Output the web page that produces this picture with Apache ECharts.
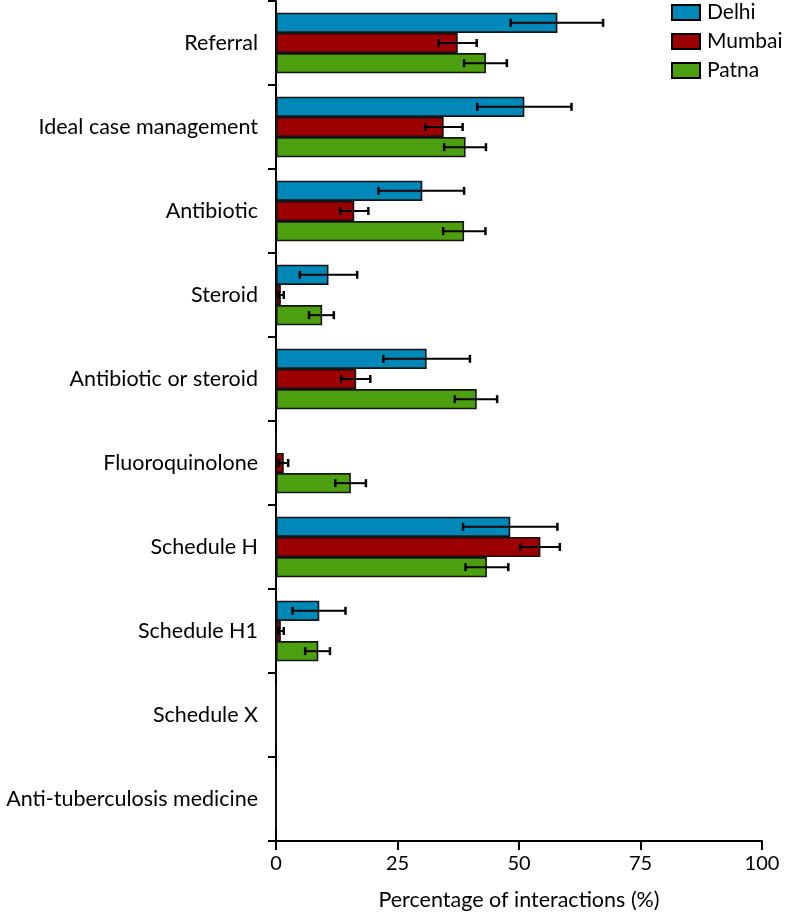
<!DOCTYPE html>
<html>
<head>
<meta charset="utf-8">
<script src="https://cdn.jsdelivr.net/npm/echarts@6/dist/echarts.min.js"></script>
<style>
html,body{margin:0;padding:0;background:#fff;}
#chart{width:788px;height:915px;}
</style>
</head>
<body>
<div id="chart"></div>
<script>
const categories = ['Referral','Ideal case management','Antibiotic','Steroid','Antibiotic or steroid','Fluoroquinolone','Schedule H','Schedule H1','Schedule X','Anti-tuberculosis medicine'];
const seriesNames = ['Delhi','Mumbai','Patna'];
const xTicks = [0, 25, 50, 75, 100];

const delhi     = [57.9, 51.1, 30.1, 10.8, 31.0, 0,    48.2, 8.9, 0, 0];
const delhiLow  = [48.3, 41.4, 21.1, 4.9,  22.1, null, 38.5, 3.4, null, null];
const delhiHigh = [67.3, 60.8, 38.7, 16.7, 39.9, null, 57.9, 14.3, null, null];

const mumbai     = [37.4, 34.5, 16.1, 1.0, 16.5, 1.6, 54.4, 1.0, 0, 0];
const mumbaiLow  = [33.5, 30.7, 13.2, 0.6, 13.4, 0.6, 50.3, 0.5, null, null];
const mumbaiHigh = [41.3, 38.4, 19.0, 1.6, 19.4, 2.5, 58.4, 1.6, null, null];

const patna     = [43.2, 39.0, 38.7, 9.5,  41.3, 15.4, 43.4, 8.7,  0, 0];
const patnaLow  = [38.7, 34.6, 34.4, 6.8,  36.8, 12.2, 39.0, 6.0,  null, null];
const patnaHigh = [47.5, 43.2, 43.1, 11.9, 45.5, 18.5, 47.8, 11.1, null, null];

const colors = ['#0088b8', '#9c0000', '#4ca010'];
const FONT = 'Lato';
const CAT_GAP = 0.28;

const values = [delhi, mumbai, patna];
const lows = [delhiLow, mumbaiLow, patnaLow];
const highs = [delhiHigh, mumbaiHigh, patnaHigh];

function errData(lo, hi) {
  const out = [];
  for (let i = 0; i < lo.length; i++) {
    if (lo[i] != null && hi[i] != null) out.push([i, lo[i], hi[i]]);
  }
  return out;
}

function makeRender(offset) {
  return function (params, api) {
    const idx = api.value(0);
    const p1 = api.coord([api.value(1), idx]);
    const p2 = api.coord([api.value(2), idx]);
    const band = api.size([0, 1])[1];
    const bw = band * (1 - CAT_GAP) / 3;
    const y = p1[1] + offset * bw;
    const cap = 4;
    const st = { stroke: '#000', lineWidth: 2 };
    const cst = { stroke: '#000', lineWidth: 2.5 };
    return {
      type: 'group',
      children: [
        { type: 'line', shape: { x1: p1[0], y1: y, x2: p2[0], y2: y }, style: st },
        { type: 'line', shape: { x1: p1[0], y1: y - cap, x2: p1[0], y2: y + cap }, style: cst },
        { type: 'line', shape: { x1: p2[0], y1: y - cap, x2: p2[0], y2: y + cap }, style: cst }
      ]
    };
  };
}

const series = [];
seriesNames.forEach((n, k) => {
  series.push({
    name: n,
    type: 'bar',
    data: values[k],
    barGap: '0%',
    barCategoryGap: (CAT_GAP * 100) + '%',
    itemStyle: { color: colors[k], borderColor: '#141414', borderWidth: 1.6 },
    emphasis: { disabled: true },
    z: 2
  });
});
seriesNames.forEach((n, k) => {
  series.push({
    name: n + ' CI',
    type: 'custom',
    data: errData(lows[k], highs[k]),
    encode: { x: [1, 2], y: 0 },
    renderItem: makeRender(k - 1),
    z: 5,
    silent: true
  });
});

const chart = echarts.init(document.getElementById('chart'), null, { renderer: 'canvas' });
chart.setOption({
  animation: false,
  textStyle: { fontFamily: FONT },
  legend: {
    data: seriesNames,
    orient: 'vertical',
    left: 666,
    top: -3,
    itemWidth: 28,
    itemHeight: 15,
    itemGap: 8,
    icon: 'rect',
    textStyle: { fontFamily: FONT, fontSize: 21, color: '#000', padding: [0, 0, 0, 2] },
    itemStyle: { borderColor: '#000', borderWidth: 2 }
  },
  grid: { left: 276, right: 26, top: 1, bottom: 74, containLabel: false, outerBoundsMode: 'none' },
  xAxis: {
    type: 'value',
    min: xTicks[0],
    max: xTicks[xTicks.length - 1],
    interval: xTicks[1] - xTicks[0],
    name: 'Percentage of interactions (%)',
    nameLocation: 'middle',
    nameGap: 48,
    nameTextStyle: { fontFamily: FONT, fontSize: 21.5, color: '#000' },
    axisLine: { show: true, lineStyle: { color: '#000', width: 2 } },
    axisTick: { show: true, length: 9, lineStyle: { color: '#000', width: 2 } },
    axisLabel: { fontFamily: FONT, fontSize: 20, color: '#000', margin: 13 },
    splitLine: { show: false }
  },
  yAxis: {
    type: 'category',
    data: categories,
    inverse: true,
    axisLine: { show: true, onZero: false, lineStyle: { color: '#000', width: 2 } },
    axisTick: { show: true, length: 8, alignWithLabel: false, lineStyle: { color: '#000', width: 2 } },
    axisLabel: { fontFamily: FONT, fontSize: 21.5, color: '#000', margin: 18 },
    splitLine: { show: false }
  },
  series: series
});
</script>
</body>
</html>
